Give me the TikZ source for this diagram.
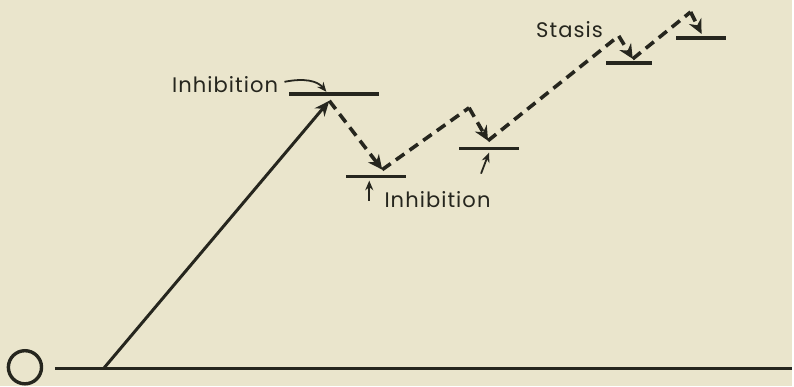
\documentclass[tikz,border=0pt]{standalone}
\usepackage{fontspec}
\setmainfont{Poppins}
\newfontfamily\lblfont[LetterSpace=5]{Poppins}
\usetikzlibrary{arrows.meta}
\definecolor{paper}{HTML}{EAE5CC}
\definecolor{ink}{HTML}{26261E}

\begin{document}
\begin{tikzpicture}[x=0.025cm, y=-0.025cm,
        level/.style={fill=ink, inner sep=0pt, minimum height=0.09cm},
        jump/.style={-{Stealth[length=3.8mm, width=3.2mm]}, line width=0.075cm, draw=ink},
        climb/.style={line width=0.09cm, draw=ink, dash pattern=on 0.26cm off 0.16cm},
        drop/.style={climb, -{Stealth[length=3.6mm, width=3.4mm]}},
        hint/.style={-{Stealth[length=2.4mm, width=2mm]}, line width=0.045cm, draw=ink},
        lbl/.style={font=\lblfont\fontsize{15}{18}\selectfont, text=ink, inner sep=0pt}
    ]
        \fill[paper] (0,0) rectangle (794,387);

        % ground state and the first excitation
        \node[circle, draw=ink, line width=0.085cm, minimum size=0.83cm, inner sep=0pt] (origin) at (25,368) {};
        \coordinate (axisL) at (55,369);
        \coordinate (axisR) at (794,369);
        \coordinate (launch) at (104,369);

        \node[level, minimum width=2.25cm] (lv1) at (335,94) {};
        \node[level, minimum width=1.5cm] (lv2) at (377,177) {};
        \node[level, minimum width=1.5cm] (lv3) at (490,149) {};
        \node[level, minimum width=1.15cm] (lv4) at (630,63) {};
        \node[level, minimum width=1.25cm] (lv5) at (702,38) {};

        \coordinate (hit1) at (330,101);
        \coordinate (hit2) at (383,170);
        \coordinate (peak1) at (470,108);
        \coordinate (hit3) at (489,141);
        \coordinate (peak2) at (620,36);
        \coordinate (hit4) at (634,59);
        \coordinate (peak3) at (692,12);
        \coordinate (hit5) at (703,34);

        \draw[line width=0.08cm, ink] (axisL) -- (axisR);
        \draw[jump] (launch) -- (hit1);

        % dashed path up the ladder
        \draw[drop] (hit1) -- (hit2);
        \draw[climb] (hit2) -- (peak1);
        \draw[drop] (peak1) -- (hit3);
        \draw[climb] (hit3) -- (peak2);
        \draw[drop] (peak2) -- (hit4);
        \draw[climb] (hit4) -- (peak3);
        \draw[drop] (peak3) -- (hit5);

        % labels
        \node[lbl, anchor=base east] (inh1) at (279,93) {Inhibition};
        \node[lbl, anchor=base west] (inh2) at (385,208) {Inhibition};
        \node[lbl, anchor=base west] (stasis) at (537,38) {Stasis};

        \coordinate (curveA) at (285,82);
        \coordinate (curveB) at (327,92);
        \draw[hint] (curveA) .. controls (305,78) and (318,81) .. (curveB);

        \coordinate (tail2) at (370,201);
        \coordinate (poke2) at (370,181);
        \draw[hint] (tail2) -- (poke2);
        \coordinate (tail3) at (482,174);
        \coordinate (poke3) at (490,153);
        \draw[hint] (tail3) -- (poke3);
    \end{tikzpicture}
\end{document}
